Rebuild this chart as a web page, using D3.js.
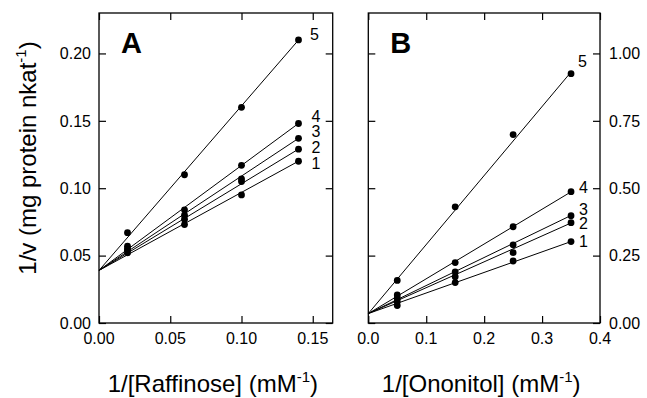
<!DOCTYPE html>
<html><head><meta charset="utf-8">
<script src="https://cdn.jsdelivr.net/npm/d3@7"></script>
<style>body{margin:0;background:#fff}svg{display:block}text{font-family:"Liberation Sans",Arial,sans-serif;fill:#000}</style>
</head><body><svg id="c" width="647" height="398"></svg>
<script>
// ---------- data ----------
const seriesNames = ["1","2","3","4","5"];
const raffX = [0.02, 0.06, 0.10, 0.14];
const raffY1 = [0.052, 0.073, 0.095, 0.120];
const raffY2 = [0.054, 0.077, 0.105, 0.129];
const raffY3 = [0.055, 0.080, 0.107, 0.137];
const raffY4 = [0.057, 0.084, 0.117, 0.148];
const raffY5 = [0.067, 0.110, 0.160, 0.210];
const raffIntercepts = [0.039, 0.039, 0.039, 0.039, 0.039];
const raffSlopes = [0.579, 0.643, 0.700, 0.779, 1.221];
const raffXTicks = [0, 0.05, 0.10, 0.15];
const raffYTicks = [0, 0.05, 0.10, 0.15, 0.20];

const onoX = [0.05, 0.15, 0.25, 0.35];
const onoY1 = [0.065, 0.150, 0.230, 0.302];
const onoY2 = [0.080, 0.172, 0.261, 0.372];
const onoY3 = [0.092, 0.190, 0.290, 0.398];
const onoY4 = [0.104, 0.224, 0.357, 0.487];
const onoY5 = [0.158, 0.431, 0.699, 0.925];
const onoIntercepts = [0.035, 0.035, 0.035, 0.035, 0.035];
const onoSlopes = [0.763, 0.960, 1.040, 1.290, 2.560];
const onoXTicks = [0, 0.1, 0.2, 0.3, 0.4];
const onoYTicks = [0, 0.25, 0.50, 0.75, 1.00];

// ---------- drawing ----------
const svg = d3.select("#c");
const plotTop = 13, plotBottom = 323;

function panel(cfg) {
  const x = d3.scaleLinear().domain(cfg.xDomain).range([cfg.left, cfg.right]);
  const y = d3.scaleLinear().domain(cfg.yDomain).range([plotBottom, plotTop]);
  const g = svg.append("g");
  const tl = 7;
  g.append("rect").attr("x", cfg.left).attr("y", plotTop)
    .attr("width", cfg.right - cfg.left).attr("height", plotBottom - plotTop)
    .attr("fill", "none").attr("stroke", "#000").attr("stroke-width", 1.3);
  g.append("g").attr("transform", `translate(0,${plotBottom})`)
    .call(d3.axisTop(x).tickValues(cfg.xTicks).tickSize(tl).tickFormat(""))
    .call(s => s.select(".domain").remove());
  g.append("g").attr("transform", `translate(0,${plotTop})`)
    .call(d3.axisBottom(x).tickValues(cfg.xTicks).tickSize(tl).tickFormat(""))
    .call(s => s.select(".domain").remove());
  g.append("g").attr("transform", `translate(${cfg.left},0)`)
    .call(d3.axisRight(y).tickValues(cfg.yTicks).tickSize(tl).tickFormat(""))
    .call(s => s.select(".domain").remove());
  g.append("g").attr("transform", `translate(${cfg.right},0)`)
    .call(d3.axisLeft(y).tickValues(cfg.yTicks).tickSize(tl).tickFormat(""))
    .call(s => s.select(".domain").remove());
  g.selectAll(".tick line").attr("stroke", "#000").attr("stroke-width", 1.2);
  g.selectAll(".xl").data(cfg.xTicks).join("text")
    .attr("x", d => x(d)).attr("y", plotBottom + 21).attr("text-anchor", "middle")
    .attr("font-size", 16).text(d => d3.format(cfg.xFmt)(d));
  g.selectAll(".yl").data(cfg.yTicks).join("text")
    .attr("x", cfg.yLabelRight ? cfg.right + 9 : cfg.left - 8)
    .attr("y", d => y(d)).attr("dy", "0.36em")
    .attr("text-anchor", cfg.yLabelRight ? "start" : "end")
    .attr("font-size", 16).text(d => d3.format(".2f")(d));
  cfg.series.forEach((ys, i) => {
    const x0 = 0, x1 = cfg.xs[cfg.xs.length - 1];
    g.append("line")
      .attr("x1", x(x0)).attr("y1", y(cfg.intercepts[i] + cfg.slopes[i] * x0))
      .attr("x2", x(x1)).attr("y2", y(cfg.intercepts[i] + cfg.slopes[i] * x1))
      .attr("stroke", "#000").attr("stroke-width", 1);
    g.selectAll(null).data(ys).join("circle")
      .attr("cx", (d, j) => x(cfg.xs[j])).attr("cy", d => y(d))
      .attr("r", 3.4).attr("fill", "#000");
    g.append("text")
      .attr("x", x(x1) + cfg.labDx[i]).attr("y", y(ys[ys.length - 1]) + cfg.labDy[i])
      .attr("dy", "0.36em").attr("font-size", 16).text(seriesNames[i]);
  });
  g.append("text").attr("x", cfg.left + 22).attr("y", 53)
    .attr("font-size", 29).attr("font-weight", "bold").text(cfg.letter);
  const t = g.append("text").attr("x", (cfg.left + cfg.right) / 2 + cfg.titleDx).attr("y", 392)
    .attr("text-anchor", "middle").attr("font-size", 24);
  t.append("tspan").text(cfg.xTitle + " (mM");
  t.append("tspan").attr("font-size", 15).attr("dy", -10).text("-1");
  t.append("tspan").attr("dy", 10).text(")");
}

panel({
  letter: "A", left: 99, right: 332.7, xDomain: [0, 0.164], yDomain: [0, 0.23],
  xTicks: raffXTicks, yTicks: raffYTicks, xFmt: ".2f", yLabelRight: false,
  xs: raffX, series: [raffY1, raffY2, raffY3, raffY4, raffY5],
  intercepts: raffIntercepts, slopes: raffSlopes,
  labDx: [13, 13, 13, 13, 11.5], labDy: [2, -2, -7, -7, -6],
  xTitle: "1/[Raffinose]", titleDx: -3
});
panel({
  letter: "B", left: 368.3, right: 600, xDomain: [0, 0.4], yDomain: [0, 1.15],
  xTicks: onoXTicks, yTicks: onoYTicks, xFmt: ".1f", yLabelRight: true,
  xs: onoX, series: [onoY1, onoY2, onoY3, onoY4, onoY5],
  intercepts: onoIntercepts, slopes: onoSlopes,
  labDx: [8, 8, 8, 8, 7], labDy: [0, 1, -6, -4, -12],
  xTitle: "1/[Ononitol]", titleDx: -3
});

const yt = svg.append("text").attr("transform", "translate(36,158) rotate(-90)")
  .attr("text-anchor", "middle").attr("font-size", 24);
yt.append("tspan").text("1/v (mg protein nkat");
yt.append("tspan").attr("font-size", 15).attr("dy", -10).text("-1");
yt.append("tspan").attr("dy", 10).text(")");
</script></body></html>
